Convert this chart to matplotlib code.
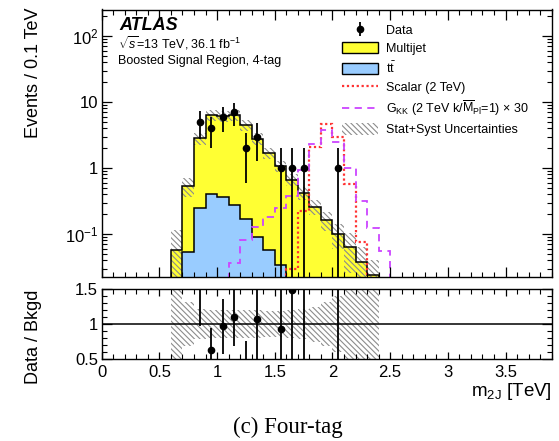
import numpy as np
import matplotlib
matplotlib.use("Agg")
import matplotlib.pyplot as plt
from matplotlib.ticker import MultipleLocator, LogLocator, FixedLocator, FuncFormatter, NullFormatter
from matplotlib.lines import Line2D
from matplotlib.patches import Patch
from matplotlib.legend_handler import HandlerTuple

plt.rcParams['font.family'] = ['Liberation Sans', 'DejaVu Sans']
plt.rcParams['mathtext.fontset'] = 'custom'
plt.rcParams['mathtext.rm'] = 'Liberation Sans'
plt.rcParams['mathtext.it'] = 'Liberation Sans:italic'
plt.rcParams['mathtext.bf'] = 'Liberation Sans:bold'
plt.rcParams['hatch.color'] = '#8c8c8c'
plt.rcParams['hatch.linewidth'] = 0.8

# ===== data (bins of 0.1 TeV) =====
bkg_edges = np.round(np.arange(0.6, 2.41, 0.1), 2)
multijet = [0.057, 0.48, 2.58, 6.0, 5.83, 6.08, 4.31, 2.71, 1.65, 1.05,
            0.67, 0.42, 0.26, 0.163, 0.10, 0.064, 0.038, 0.024]
ttbar = [0.0, 0.054, 0.245, 0.40, 0.37, 0.275, 0.167, 0.091, 0.057, 0.034,
         0, 0, 0, 0, 0, 0, 0, 0]
bkg_rel_unc = [1.0, 0.32, 0.22, 0.20, 0.20, 0.20, 0.20, 0.20, 0.19, 0.19,
               0.20, 0.22, 0.25, 0.31, 0.40, 0.6, 0.65, 0.7]
data_counts = [0, 0, 5, 4, 6, 7, 2, 3, 0, 1, 1, 1, 0, 0, 1, 0, 0, 0]

scalar_edges = np.round(np.arange(1.6, 2.31, 0.1), 2)
scalar = [0.03, 0.22, 2.06, 4.64, 2.98, 0.57, 0.077]

gkk_edges = np.round(np.arange(1.1, 2.51, 0.1), 2)
gkk_x30 = [0.036, 0.08, 0.13, 0.18, 0.25, 0.38, 0.92, 2.35, 3.75, 2.5,
           0.99, 0.32, 0.122, 0.056]

c_yellow = '#ffff33'
c_blue = '#99ccff'
c_red = '#ff3333'
c_mag = '#cc44ff'
c_hatch = '#8c8c8c'
HATCH = '\\' * 6

fig = plt.figure(figsize=(5.59, 4.41), dpi=100)
W, H = 559.0, 441.0
ax = fig.add_axes([101.7 / W, 1 - 277 / H, 450 / W, 267.5 / H])
rax = fig.add_axes([101.7 / W, 1 - 359 / H, 450 / W, 70 / H])

tt = np.array(ttbar)
mj = np.array(multijet)
total = tt + mj
rel = np.array(bkg_rel_unc)
n = np.array(data_counts, dtype=float)
centers = bkg_edges[:-1] + 0.05
floor = 1e-4

# ===== main panel =====
ax.set_yscale('log')
ax.stairs(np.maximum(tt, floor), bkg_edges, baseline=floor, fill=True, color=c_blue, lw=0)
ax.stairs(total, bkg_edges, baseline=np.maximum(tt, floor), fill=True, color=c_yellow, lw=0)
ax.stairs(total * (1 + rel), bkg_edges, baseline=np.maximum(total * (1 - rel), floor),
          fill=True, facecolor='none', edgecolor=c_hatch, hatch=HATCH, lw=0)
ax.stairs(np.where(tt > 0, tt, floor), bkg_edges, baseline=None, color='k', lw=1.1)
ax.stairs(total, bkg_edges, baseline=floor, color='k', lw=1.1)

ax.stairs(scalar, scalar_edges, baseline=floor, color=c_red, lw=1.6, ls=(0, (1, 1.2)))
ax.stairs(gkk_x30, gkk_edges, baseline=floor, color=c_mag, lw=1.3, ls=(0, (4, 3)))

m = n > 0
err = np.sqrt(n[m])
err_lo = np.minimum(err, n[m] - floor)
ax.errorbar(centers[m], n[m], yerr=[err_lo, err], fmt='o', ms=4.5, color='k',
            elinewidth=1.3, capsize=0)

ax.set_xlim(0, 3.9)
ax.set_ylim(0.0224, 252)
ax.xaxis.set_major_locator(MultipleLocator(0.5))
ax.xaxis.set_minor_locator(MultipleLocator(0.1))
ax.xaxis.set_major_formatter(NullFormatter())
ax.yaxis.set_major_locator(FixedLocator([0.1, 1, 10, 100]))
ax.yaxis.set_minor_locator(LogLocator(base=10, subs=np.arange(2, 10), numticks=20))
ax.yaxis.set_minor_formatter(NullFormatter())
ylabels = {0.1: r'$10^{-1}$', 1: '1', 10: '10', 100: r'$10^{2}$'}
ax.yaxis.set_major_formatter(FuncFormatter(lambda v, p: ylabels.get(round(v, 3), '')))

# ===== ratio panel =====
rax.stairs(1 + rel, bkg_edges, baseline=1 - rel, fill=True, facecolor='none',
           edgecolor=c_hatch, hatch=HATCH, lw=0)
rax.axhline(1, color='k', lw=1.1)
ratio = n[m] / total[m]
rerr = err / total[m]
rax.errorbar(centers[m], ratio, yerr=rerr, fmt='o', ms=4.5, color='k',
             elinewidth=1.3, capsize=0, clip_on=True)
rax.set_xlim(0, 3.9)
rax.set_ylim(0.5, 1.5)
rax.xaxis.set_major_locator(MultipleLocator(0.5))
rax.xaxis.set_minor_locator(MultipleLocator(0.1))
rax.yaxis.set_major_locator(FixedLocator([0.5, 1, 1.5]))
rax.yaxis.set_minor_locator(MultipleLocator(0.1))
rax.xaxis.set_major_formatter(FuncFormatter(lambda v, p: '%g' % v))
rax.yaxis.set_major_formatter(FuncFormatter(lambda v, p: '%g' % v))

for a in (ax, rax):
    a.tick_params(which='both', direction='in', top=True, right=True, labelsize=12)
    a.tick_params(which='major', length=7, width=0.9)
    a.tick_params(which='minor', length=3.5, width=0.8)
    a.tick_params(axis='y', pad=2.5)
    a.tick_params(axis='x', pad=4)
    for s in a.spines.values():
        s.set_linewidth(1.0)
rax.tick_params(axis='x', which='major', length=5)

# ===== labels =====
fig.text(33 / W, 1 - 7 / H, 'Events / 0.1 TeV', rotation=90, ha='center', va='top', fontsize=13)
fig.text(33 / W, 1 - 290 / H, 'Data / Bkgd', rotation=90, ha='center', va='top', fontsize=13)
fig.text(552 / W, 1 - 391 / H, r'm$_{\rm 2J}$ [TeV]', ha='right', va='center', fontsize=13.5)
fig.text(288 / W, 1 - 427 / H, '(c) Four-tag', ha='center', va='center', fontsize=16.5,
         family='Liberation Serif')

ax.text(119 / W, 1 - 25 / H, 'ATLAS', transform=fig.transFigure, fontsize=13,
        fontweight='bold', fontstyle='italic', va='center', ha='left')
ax.text(118 / W, 1 - 43 / H, r'$\sqrt{s}$=13 TeV, 36.1 fb$^{-1}$', transform=fig.transFigure,
        fontsize=9, va='center', ha='left')
ax.text(118 / W, 1 - 61 / H, 'Boosted Signal Region, 4-tag', transform=fig.transFigure,
        fontsize=9, va='center', ha='left')

# ===== legend =====
h_data = (Line2D([], [], marker='|', ms=10, mew=1.3, color='k', ls='none'),
          Line2D([], [], marker='o', ms=4.5, color='k', ls='none'))
handles = [
    h_data,
    Patch(facecolor=c_yellow, edgecolor='k', lw=1.0),
    Patch(facecolor=c_blue, edgecolor='k', lw=1.0),
    Line2D([], [], color=c_red, lw=1.6, ls=(0, (1, 1.2))),
    Line2D([], [], color=c_mag, lw=1.3, ls=(0, (4, 3))),
    Patch(facecolor='none', edgecolor=c_hatch, hatch=HATCH, lw=0),
]
labels = ['Data', 'Multijet', r'$\mathrm{t\bar{t}}$', 'Scalar (2 TeV)',
          r'G$_{\rm KK}$ (2 TeV k/$\overline{\rm M}_{\rm Pl}$=1) $\times$ 30',
          'Stat+Syst Uncertainties']
fig.legend(handles, labels, loc='upper left', bbox_to_anchor=(342 / W, 1 - 24 / H),
           frameon=False, fontsize=9, handlelength=2.9, handleheight=1.0,
           handletextpad=0.6, labelspacing=0.42, borderpad=0, borderaxespad=0,
           handler_map={tuple: HandlerTuple(ndivide=1)})

fig.savefig('out.png', dpi=100)
